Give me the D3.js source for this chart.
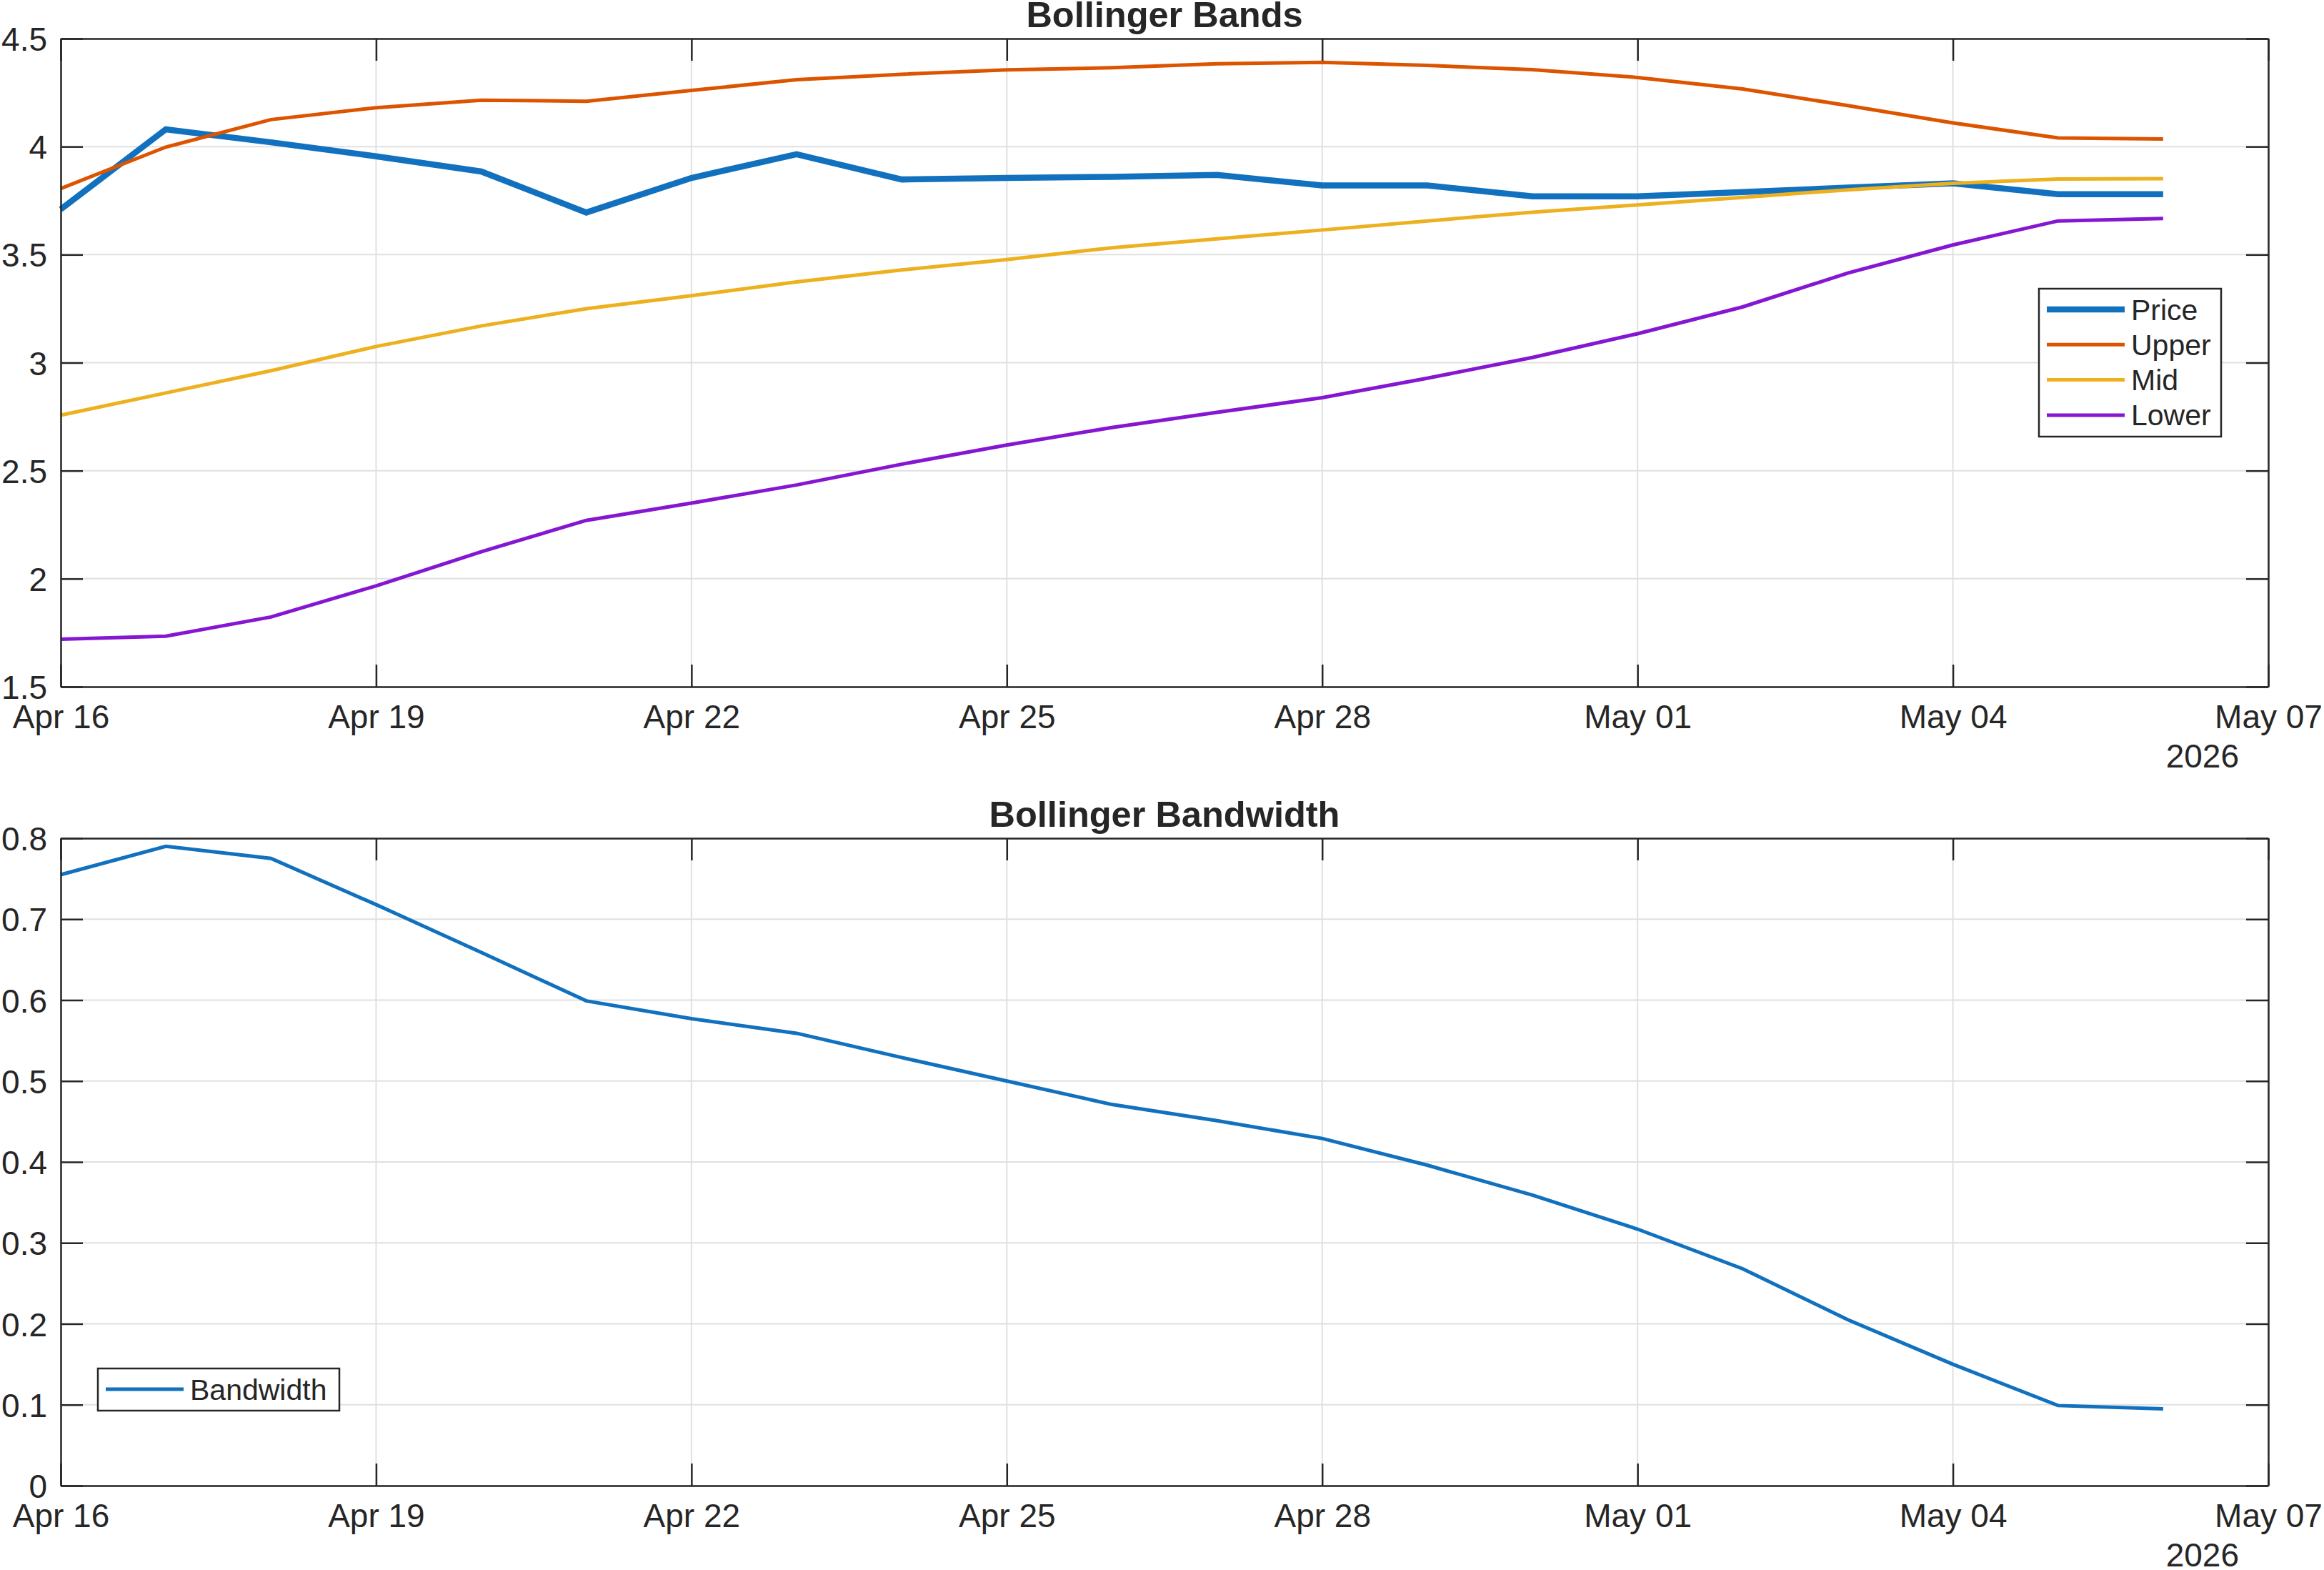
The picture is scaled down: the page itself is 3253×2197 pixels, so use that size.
<!DOCTYPE html>
<html>
<head>
<meta charset="utf-8">
<script src="https://cdn.jsdelivr.net/npm/d3@7"></script>
<style>
  body { margin: 0; background: #fff; }
  text { font-family: "Liberation Sans", Arial, sans-serif; fill: #262626; }
</style>
</head>
<body>
<svg id="chart" width="3253" height="2197"></svg>
<script>
// daily closes, Apr 16 .. May 06 2026
var dates = ['2026-04-16', '2026-04-17', '2026-04-18', '2026-04-19', '2026-04-20', '2026-04-21', '2026-04-22',
             '2026-04-23', '2026-04-24', '2026-04-25', '2026-04-26', '2026-04-27', '2026-04-28', '2026-04-29',
             '2026-04-30', '2026-05-01', '2026-05-02', '2026-05-03', '2026-05-04', '2026-05-05', '2026-05-06'];
var price = [3.71, 4.08, 4.02, 3.955, 3.885, 3.695, 3.855, 3.965, 3.848, 3.855, 3.86,
             3.869, 3.82, 3.82, 3.77, 3.77, 3.79, 3.81, 3.83, 3.78, 3.78];
var upper = [3.806, 3.998, 4.125, 4.18, 4.215, 4.21, 4.26, 4.31, 4.335, 4.355, 4.365,
             4.383, 4.39, 4.376, 4.356, 4.32, 4.267, 4.19, 4.11, 4.04, 4.035];
var mid   = [2.757, 2.86, 2.963, 3.075, 3.17, 3.25, 3.31, 3.374, 3.429, 3.477, 3.532,
             3.573, 3.614, 3.656, 3.696, 3.73, 3.765, 3.80, 3.83, 3.85, 3.852];
var lower = [1.72, 1.734, 1.823, 1.967, 2.125, 2.27, 2.35, 2.434, 2.53, 2.619, 2.70,
             2.77, 2.838, 2.928, 3.024, 3.134, 3.258, 3.415, 3.545, 3.656, 3.667];
var bandwidth = [0.755, 0.79, 0.775, 0.718, 0.659, 0.599, 0.577, 0.559, 0.529, 0.50, 0.471,
                 0.451, 0.429, 0.396, 0.359, 0.317, 0.268, 0.205, 0.150, 0.099, 0.095];

var xDomain = ['2026-04-16', '2026-05-07'];
var xTicks = ['2026-04-16', '2026-04-19', '2026-04-22', '2026-04-25', '2026-04-28', '2026-05-01', '2026-05-04', '2026-05-07'];
var bandTicks = [1.5, 2, 2.5, 3, 3.5, 4, 4.5];
var widthTicks = [0, 0.1, 0.2, 0.3, 0.4, 0.5, 0.6, 0.7, 0.8];
var yearLabel = '2026';

var parse = d3.utcParse('%Y-%m-%d');
var days = dates.map(parse);

var svg = d3.select('#chart');
var AX = '#262626', GRID = '#e0e0e0';
var left = 85, right = 3175;

var x = d3.scaleUtc().domain(xDomain.map(parse)).range([left, right]);

function drawPanel(opts) {
    var top = opts.top, bottom = opts.bottom;
    var y = d3.scaleLinear().domain(opts.yDomain).range([bottom, top]);
    var g = svg.append('g');

    // grid
    g.append('g').selectAll('line').data(xTicks.map(parse)).join('line')
        .attr('x1', d => x(d)).attr('x2', d => x(d)).attr('y1', top).attr('y2', bottom)
        .attr('stroke', GRID).attr('stroke-width', 2);
    g.append('g').selectAll('line').data(opts.yTicks).join('line')
        .attr('x1', left).attr('x2', right).attr('y1', d => y(d)).attr('y2', d => y(d))
        .attr('stroke', GRID).attr('stroke-width', 2);

    // series
    var line = d3.line().x((d, i) => x(days[i])).y(d => y(d));
    opts.series.forEach(function (s) {
        g.append('path').attr('d', line(s.values))
            .attr('fill', 'none').attr('stroke', s.color).attr('stroke-width', s.width)
            .attr('stroke-linejoin', 'miter');
    });

    // axes (ticks inside, mirrored on top/right)
    var fmt = d3.format('~g');
    var bx = g.append('g').attr('transform', 'translate(0,' + bottom + ')')
        .call(d3.axisBottom(x).tickValues(xTicks.map(parse)).tickFormat(d3.utcFormat('%b %d'))
            .tickSize(-31).tickSizeOuter(0).tickPadding(25));
    var tx = g.append('g').attr('transform', 'translate(0,' + top + ')')
        .call(d3.axisTop(x).tickValues(xTicks.map(parse)).tickFormat('').tickSize(-31).tickSizeOuter(0));
    var ly = g.append('g').attr('transform', 'translate(' + left + ',0)')
        .call(d3.axisLeft(y).tickValues(opts.yTicks).tickFormat(fmt).tickSize(-31).tickSizeOuter(0).tickPadding(19));
    var ry = g.append('g').attr('transform', 'translate(' + right + ',0)')
        .call(d3.axisRight(y).tickValues(opts.yTicks).tickFormat('').tickSize(-31).tickSizeOuter(0));
    [bx, tx, ly, ry].forEach(function (a) {
        a.selectAll('path.domain').attr('stroke', AX).attr('stroke-width', 2.5);
        a.selectAll('.tick line').attr('stroke', AX).attr('stroke-width', 2.5);
        a.selectAll('text').attr('font-family', null).attr('font-size', 46).attr('fill', AX);
    });
    ly.selectAll('text').attr('dy', '0.36em');

    g.append('text').attr('x', 3134).attr('y', bottom + 113)
        .attr('text-anchor', 'end').attr('font-size', 46).text(yearLabel);

    g.append('text').attr('x', (left + right) / 2).attr('y', opts.titleY)
        .attr('text-anchor', 'middle').attr('font-size', 50.5).attr('font-weight', 'bold')
        .text(opts.title);

    // legend
    var lg = opts.legend;
    var rowH = 49.3;
    g.append('rect').attr('x', lg.x).attr('y', lg.y).attr('width', lg.w)
        .attr('height', lg.h).attr('fill', '#fff').attr('stroke', AX).attr('stroke-width', 2.5);
    var rows = g.append('g').selectAll('g').data(opts.series).join('g')
        .attr('transform', (d, i) => 'translate(' + lg.x + ',' + (lg.y + lg.first + i * rowH) + ')');
    rows.append('line').attr('x1', 11).attr('x2', 120)
        .attr('stroke', d => d.color).attr('stroke-width', d => d.width);
    rows.append('text').attr('x', 129).attr('y', 14.5).attr('font-size', 41).text(d => d.name);
}

drawPanel({
    top: 54, bottom: 961, yDomain: [1.5, 4.5], yTicks: bandTicks,
    title: 'Bollinger Bands', titleY: 38,
    series: [
        {name: 'Price', values: price, color: '#1171BE', width: 8.5},
        {name: 'Upper', values: upper, color: '#DD5400', width: 5},
        {name: 'Mid', values: mid, color: '#EDB120', width: 5},
        {name: 'Lower', values: lower, color: '#8516D1', width: 5}
    ],
    legend: {x: 2854, y: 404, w: 255, h: 207, first: 29}
});

drawPanel({
    top: 1173, bottom: 2079, yDomain: [0, 0.8], yTicks: widthTicks,
    title: 'Bollinger Bandwidth', titleY: 1157,
    series: [
        {name: 'Bandwidth', values: bandwidth, color: '#1171BE', width: 5}
    ],
    legend: {x: 137, y: 1915, w: 338, h: 59, first: 29}
});
</script>
</body>
</html>
